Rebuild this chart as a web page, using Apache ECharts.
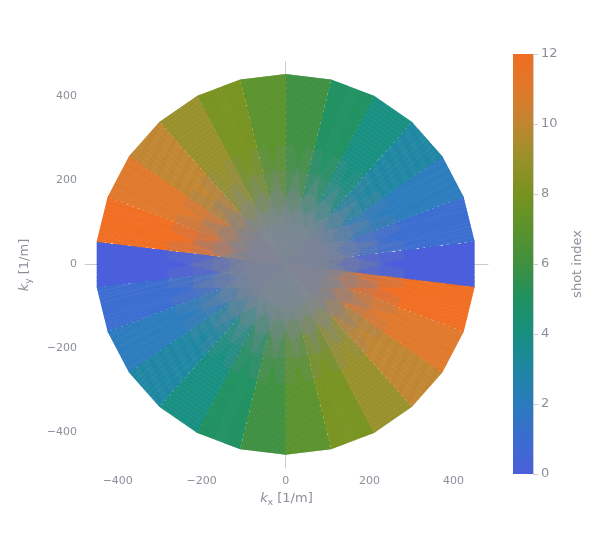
<!DOCTYPE html>
<html><head><meta charset="utf-8">
<script src="https://cdn.jsdelivr.net/npm/echarts@6/dist/echarts.min.js"></script>
<style>html,body{margin:0;padding:0;background:#fff}#c{width:605px;height:550px}</style>
</head><body><div id="c"></div>
<script>
// data
const shotIndex = [0,1,2,3,4,5,6,7,8,9,10,11,12];
const shotAngleDeg = [0,13.85,27.7,41.5,55.4,69.2,83.1,96.9,110.8,124.6,138.5,152.3,166.2];
const shotColors = ['#4b5fdc','#3a6cd0','#2a7bbd','#1e86a2','#168f80','#1f9060','#3e9040','#5a922c','#78921f','#98902a','#c08530','#e0782a','#f06d20'];
const readoutHalfLength = [450];
const bladeHalfWidth = [54];
const readoutsPerShot = [64];
const sectorHalfAngleDeg = [6.92];
const centreRadii = [90, 130, 170, 220, 280];
const xTicks = [-400,-200,0,200,400];
const yTicks = [-400,-200,0,200,400];

const L = readoutHalfLength[0], W = bladeHalfWidth[0], N = readoutsPerShot[0];
const t = Math.tan(sectorHalfAngleDeg[0]*Math.PI/180);
const series = [], grayLayers = centreRadii.map(()=>[]);
shotIndex.forEach((s,k)=>{
  const a = shotAngleDeg[k]*Math.PI/180, c=Math.cos(a), sn=Math.sin(a);
  const rot=(u,v)=>[u*c - v*sn, u*sn + v*c];
  const colored=[];
  for(let i=0;i<N;i++){
    const v=-W + 2*W*i/(N-1);
    const m=Math.min(L, Math.abs(v)/t);
    colored.push({coords:[rot(-L,v),rot(-m,v)]});
    colored.push({coords:[rot(m,v),rot(L,v)]});
    centreRadii.forEach((R,j)=>{
      const g=Math.min(m,R);
      if(g>0) grayLayers[j].push({coords:[rot(-g,v),rot(g,v)]});
    });
  }
  series.push({type:'lines',coordinateSystem:'cartesian2d',xAxisIndex:0,yAxisIndex:0,silent:true,z:2,
    data:colored,lineStyle:{color:shotColors[k],width:1.2,opacity:1}});
});
grayLayers.forEach(d=>series.push({type:'lines',coordinateSystem:'cartesian2d',xAxisIndex:0,yAxisIndex:0,silent:true,z:3,
  data:d,lineStyle:{color:'#7f8796',width:0.8,opacity:0.16}}));
series.push({type:'bar',xAxisIndex:1,yAxisIndex:1,data:[12],barWidth:'100%',silent:true,
  itemStyle:{color:new echarts.graphic.LinearGradient(0,1,0,0,
    shotColors.map((col,i)=>({offset:i/(shotColors.length-1),color:col})))}});

const grey='#8a8f9a', F='DejaVu Sans';
const chart=echarts.init(document.getElementById('c'));
chart.setOption({
  animation:false,
  textStyle:{fontFamily:F},
  grid:[{left:85,top:62,width:403,height:406},{left:513,top:54,width:20,height:420}],
  xAxis:[{type:'value',min:-478,max:482,gridIndex:0,
    axisLine:{lineStyle:{color:'#ccc'}},splitLine:{show:false},
    axisLabel:{color:grey,fontSize:11,fontFamily:F,customValues:xTicks,formatter:v=>String(v).replace('-','−')},
    axisTick:{show:true,customValues:xTicks,lineStyle:{color:'#ccc'}},
    name:'{a|k}{b|x} [1/m]',nameLocation:'middle',nameGap:22,
    nameTextStyle:{color:grey,fontSize:13,fontFamily:F,rich:{a:{color:grey,fontSize:13,fontFamily:F,fontStyle:'italic'},b:{color:grey,fontSize:9,fontFamily:F,padding:[8,0,0,0]}}}},
   {type:'category',gridIndex:1,data:['c'],show:false}],
  yAxis:[{type:'value',min:-485,max:482,gridIndex:0,
    axisLine:{show:true,lineStyle:{color:'#ccc'}},splitLine:{show:false},
    axisLabel:{color:grey,fontSize:11,fontFamily:F,customValues:yTicks,formatter:v=>String(v).replace('-','−')},
    axisTick:{show:true,customValues:yTicks,lineStyle:{color:'#ccc'}},
    name:'{a|k}{b|y} [1/m]',nameLocation:'middle',nameGap:52,
    nameTextStyle:{color:grey,fontSize:13,fontFamily:F,rich:{a:{color:grey,fontSize:13,fontFamily:F,fontStyle:'italic'},b:{color:grey,fontSize:9,fontFamily:F,padding:[8,0,0,0]}}}},
   {type:'value',gridIndex:1,min:0,max:12,interval:2,position:'right',
    axisLine:{show:true,lineStyle:{color:'#ccc'}},axisTick:{show:true,lineStyle:{color:'#ccc'}},splitLine:{show:false},
    axisLabel:{color:grey,fontSize:13,fontFamily:F,margin:8},
    name:'shot index',nameLocation:'middle',nameGap:38,nameRotate:90,nameTextStyle:{color:grey,fontSize:13,fontFamily:F}}],
  series
});
</script></body></html>
